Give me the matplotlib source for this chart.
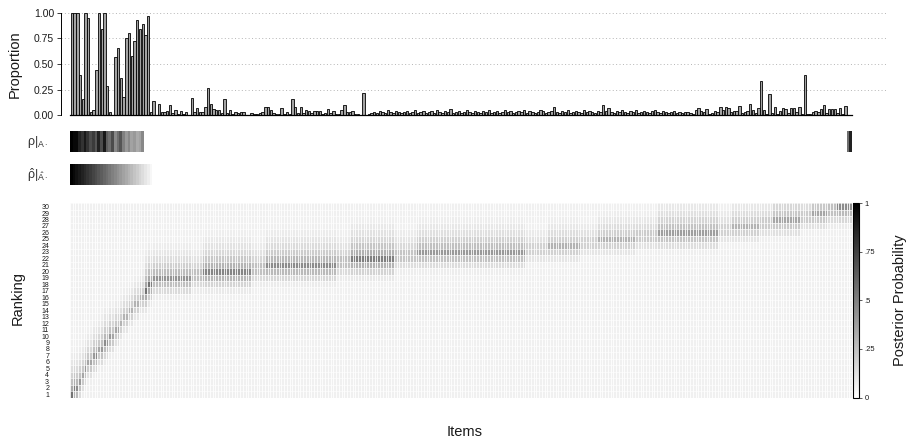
import numpy as np
import matplotlib.pyplot as plt
from matplotlib.colors import LinearSegmentedColormap

plt.rcParams['font.family'] = ['Liberation Sans', 'DejaVu Sans']
plt.rcParams['mathtext.fontset'] = 'custom'
plt.rcParams['mathtext.rm'] = 'Liberation Sans'
plt.rcParams['mathtext.it'] = 'Liberation Sans'

W, H = 912, 445

# proportion of assessors that ranked each item (top bar chart)
proportion = [
    1.00, 1.00, 1.00, 0.39, 0.16, 1.00, 0.95, 0.03, 0.05, 0.44,
    1.00, 0.84, 1.00, 0.29, 0.03, 0.00, 0.57, 0.66, 0.36, 0.18,
    0.75, 0.80, 0.58, 0.72, 0.93, 0.84, 0.89, 0.78, 0.97, 0.03,
    0.14,
    0.00, 0.11, 0.03, 0.03, 0.04, 0.10, 0.02, 0.05, 0.01, 0.04,
    0.01, 0.03, 0.00, 0.17, 0.03, 0.07, 0.03, 0.03, 0.08, 0.27,
    0.11, 0.06, 0.05, 0.05, 0.02, 0.16, 0.02, 0.05, 0.01, 0.03,
    0.02, 0.03, 0.03, 0.00, 0.00, 0.02, 0.01, 0.01, 0.02, 0.03,
    0.08, 0.08, 0.05, 0.02, 0.01, 0.01, 0.07, 0.01, 0.03, 0.01,
    0.16, 0.08, 0.02, 0.08, 0.02, 0.05, 0.04, 0.02, 0.04, 0.04,
    0.04, 0.01, 0.02, 0.06, 0.02, 0.04, 0.01, 0.01, 0.05, 0.10,
    0.03, 0.03, 0.04, 0.01, 0.01, 0.00, 0.22, 0.00, 0.01, 0.02,
    0.03, 0.02, 0.04, 0.03, 0.02, 0.05, 0.03, 0.02, 0.04, 0.03,
    0.02, 0.03, 0.04, 0.02, 0.03, 0.05, 0.02, 0.03, 0.04, 0.02,
    0.03, 0.04, 0.02, 0.05, 0.03, 0.02, 0.04, 0.03, 0.06, 0.02,
    0.03, 0.04, 0.02, 0.03, 0.05, 0.03, 0.02, 0.04, 0.03, 0.02,
    0.04, 0.03, 0.05, 0.02, 0.03, 0.04, 0.02, 0.03, 0.05, 0.03,
    0.04, 0.02, 0.03, 0.04, 0.03, 0.05, 0.02, 0.04, 0.03, 0.02,
    0.03, 0.05, 0.04, 0.02, 0.03, 0.04, 0.08, 0.03, 0.02, 0.04,
    0.03, 0.05, 0.02, 0.03, 0.04, 0.03, 0.02, 0.05, 0.03, 0.04,
    0.03, 0.02, 0.04, 0.03, 0.10, 0.04, 0.07, 0.03, 0.02, 0.04,
    0.03, 0.05, 0.03, 0.02, 0.04, 0.03, 0.05, 0.02, 0.03, 0.04,
    0.03, 0.02, 0.04, 0.05, 0.03, 0.02, 0.04, 0.03, 0.02, 0.03,
    0.04, 0.02, 0.03, 0.02, 0.03,
    0.03, 0.02, 0.01, 0.05, 0.07, 0.04, 0.03, 0.06, 0.01, 0.02,
    0.04, 0.03, 0.08, 0.05, 0.08, 0.07, 0.03, 0.04, 0.04, 0.09,
    0.02, 0.03, 0.04, 0.115, 0.05, 0.02, 0.07, 0.33, 0.05, 0.01,
    0.21, 0.02, 0.08, 0.01, 0.04, 0.07, 0.06, 0.02, 0.07, 0.07,
    0.03, 0.08, 0.01, 0.39, 0.01, 0.01, 0.03, 0.04, 0.03, 0.06,
    0.10, 0.02, 0.06, 0.06, 0.06, 0.02, 0.07, 0.01, 0.09,
]
n_items = len(proportion)

# rank of items in rho | A (first 27 items plus the last two)
rho_A_items = list(range(27)) + [n_items - 2, n_items - 1]
rho_A_rank = [1, 2, 2, 5, 7, 4, 7, 10, 8, 11, 5, 10, 4, 12, 14, 10, 17, 14, 11,
              16, 19, 17, 20, 19, 21, 20, 17, 14, 5]
# rank of items in rho hat
rho_hat_items = list(range(30))
rho_hat_rank = list(range(1, 31))

# posterior heatmap: most likely rank per item and its probability
top_peak_rank = [1, 2, 2, 3, 4, 5, 6, 6, 7, 7, 8, 8, 9, 9, 10, 10, 11, 11, 12, 13,
                 13, 14, 14, 15, 15, 16, 16, 17, 18, 18]
top_peak_prob = [0.55, 0.5, 0.45, 0.4, 0.35, 0.4, 0.35, 0.35, 0.4, 0.45, 0.35, 0.4, 0.45, 0.4,
                 0.4, 0.35, 0.35, 0.35, 0.3, 0.3, 0.3, 0.3, 0.3, 0.3, 0.3, 0.3, 0.3,
                 0.55, 0.55, 0.5]
tail_rank = [19, 19.5, 20, 20.5, 21, 21.5, 22, 22.5, 23, 23.5, 24, 24.5, 25,
             25.5, 26, 26.5, 27, 27.5, 28, 28.5, 29, 29.5, 30]
tail_count = [14, 4, 18, 5, 26, 5, 16, 8, 40, 8, 12, 6, 14,
              8, 22, 5, 10, 5, 10, 4, 6, 3, 6]
tail_prob = [0.42, 0.3, 0.48, 0.3, 0.45, 0.3, 0.5, 0.28, 0.4, 0.22, 0.3, 0.22, 0.3,
             0.25, 0.38, 0.22, 0.3, 0.25, 0.35, 0.25, 0.35, 0.3, 0.45]

peak_rank = top_peak_rank + [r for r, c in zip(tail_rank, tail_count) for _ in range(c)]
peak_prob = top_peak_prob + [p for p, c in zip(tail_prob, tail_count) for _ in range(c)]
peak_rank = peak_rank[:n_items]
peak_prob = peak_prob[:n_items]

spread_down = [1.0, 0.6, 0.35, 0.18, 0.1, 0.0]
spread_up = [1.0, 0.62, 0.45, 0.32, 0.24, 0.18, 0.14, 0.11, 0.0]
rows = np.arange(1, 31)
post = np.full((30, n_items), 0.06)
for i in range(n_items):
    d = rows - peak_rank[i]
    w = np.where(d < 0,
                 np.interp(-d, np.arange(len(spread_down)), spread_down),
                 np.interp(d, np.arange(len(spread_up)), spread_up))
    post[:, i] = np.maximum(post[:, i], peak_prob[i] * w)

fig = plt.figure(figsize=(W / 100, H / 100), dpi=100)


def box(x0, y0, x1, y1):
    return fig.add_axes([x0 / W, 1 - y1 / H, (x1 - x0) / W, (y1 - y0) / H])


txt = '#1a1a1a'

# ---- bar chart
bar_l, bar_r = 70.5, 847.0
pb = (bar_r - bar_l) / n_items
ax = box(61, 12.7, 888, 115.3)
ax.set_xlim((61 - bar_l) / pb, (888 - bar_l) / pb)
ax.set_ylim(0, 1)
for y in [0.25, 0.5, 0.75, 1.0]:
    ax.axhline(y, color='#b5b5b5', lw=0.7, ls=(0, (1, 2.5)), zorder=0)
bars = ax.bar(np.arange(n_items) + 0.06, proportion, width=0.88, align='edge',
              color='#a3a3a3', edgecolor='black', linewidth=0.6, zorder=2)
for b in bars:
    b.set_clip_on(False)
ax.plot([0, (852 - bar_l) / pb], [0, 0], color='black', lw=0.9, clip_on=False, zorder=3)
for s in ['top', 'right', 'bottom']:
    ax.spines[s].set_visible(False)
ax.spines['left'].set_bounds(0, 1)
ax.spines['left'].set_linewidth(0.7)
ax.set_xticks([])
ax.set_yticks([0, 0.25, 0.5, 0.75, 1.0])
ax.set_yticklabels(['0.00', '0.25', '0.50', '0.75', '1.00'])
ax.tick_params(axis='y', labelsize=7.5, length=3, width=0.6, pad=2, colors=txt)
ax.patch.set_visible(False)

# ---- rho strips
hm_l, hm_r = 70, 852
gray = plt.get_cmap('gray')


def strip(y0, y1, items, ranks):
    a = box(hm_l, y0, hm_r, y1)
    vals = np.full((1, n_items), np.nan)
    for it, rk in zip(items, ranks):
        vals[0, it] = (rk - 1) / 30
    a.pcolormesh(np.arange(n_items + 1), [0, 1], np.ma.masked_invalid(vals),
                 cmap=gray, vmin=0, vmax=1)
    a.set_xlim(0, n_items)
    a.set_ylim(0, 1)
    a.axis('off')


strip(131, 152, rho_A_items, rho_A_rank)
strip(164, 185, rho_hat_items, rho_hat_rank)
fig.text(48 / W, 1 - 142 / H, r'$\rho|_{A\cdot}$', ha='right', va='center', fontsize=9, color='#333333')
fig.text(48 / W, 1 - 175 / H, r'$\hat{\rho}|_{\hat{A}\cdot}$', ha='right', va='center', fontsize=9,
         color='#333333')

# ---- heatmap
cmap = LinearSegmentedColormap.from_list('wb', ['white', 'black'])
hx = box(hm_l, 203.3, hm_r, 397.5)
mesh = hx.pcolormesh(np.arange(n_items + 1), np.arange(31) + 0.5, post, cmap=cmap, vmin=0, vmax=1)
# thin white separators between cells
for k in range(n_items + 1):
    hx.axvline(k, color='white', lw=0.6)
for k in range(31):
    hx.axhline(k + 0.5, color='white', lw=0.4)
hx.set_xlim(0, n_items)
hx.set_ylim(0.5, 30.5)
hx.set_yticks(range(1, 31))
hx.set_yticklabels([str(k) for k in range(1, 31)])
hx.tick_params(axis='y', labelsize=5, length=0, pad=15, colors=txt)
hx.set_xticks([])
for s in hx.spines.values():
    s.set_visible(False)

cax = box(853.5, 203.3, 859.5, 397.5)
cb = fig.colorbar(mesh, cax=cax, ticks=[0, 0.25, 0.5, 0.75, 1])
cb.ax.set_yticklabels(['0', '.25', '.5', '.75', '1'])
cb.ax.tick_params(labelsize=5.5, length=2, width=0.5, pad=1.5, colors=txt)
cb.outline.set_linewidth(0.8)

fig.text(15 / W, 1 - 64 / H, 'Proportion', rotation=90, ha='center', va='center', fontsize=10.5, color=txt)
fig.text(18 / W, 1 - 298 / H, 'Ranking', rotation=90, ha='center', va='center', fontsize=10.5, color=txt)
fig.text(465 / W, 1 - 432 / H, 'Items', ha='center', va='center', fontsize=10.5, color=txt)
fig.text(900 / W, 1 - 300 / H, 'Posterior Probability', rotation=90, ha='center', va='center',
         fontsize=10.5, color=txt)

fig.savefig('out.png', dpi=100)
